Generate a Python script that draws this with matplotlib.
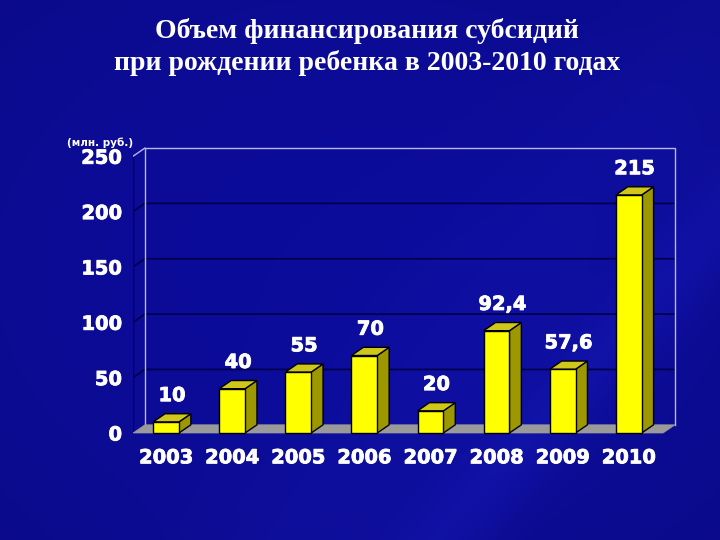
import numpy as np
import matplotlib
matplotlib.use("Agg")
import matplotlib.pyplot as plt
from matplotlib.patches import Polygon
import matplotlib.patheffects as pe

# ---- data ----
years = ["2003", "2004", "2005", "2006", "2007", "2008", "2009", "2010"]
values = [10, 40, 55, 70, 20, 92.4, 57.6, 215]
value_labels = ["10", "40", "55", "70", "20", "92,4", "57,6", "215"]
yticks = [0, 50, 100, 150, 200, 250]
title = "Объем финансирования субсидий\nпри рождении ребенка в 2003-2010 годах"
unit_label = "(млн. руб.)"

W_PX, H_PX = 720, 540
fig = plt.figure(figsize=(7.2, 5.4), dpi=100)

# ---- background ----
bg = fig.add_axes([0, 0, 1, 1])
yy, xx = np.mgrid[0:1:270j, 0:1:360j]
base = np.array([12, 12, 155]) / 255.0
streak = np.exp(-((xx * 0.9 + (1 - yy) * 0.6 - 1.15) ** 2) / 0.004) * 0.18
streak += np.exp(-((xx * 0.8 - yy * 0.5 - 0.35) ** 2) / 0.02) * 0.10
vign = 1 - 0.2 * ((xx - 0.5) ** 2 + (yy - 0.5) ** 2)
img = np.zeros(yy.shape + (3,))
for c in range(3):
    img[..., c] = base[c] * vign
img[..., 0] += streak * 0.10
img[..., 1] += streak * 0.12
img[..., 2] += streak * 0.30
img = np.clip(img, 0, 1)
bg.imshow(img, extent=[0, 1, 0, 1], aspect="auto", origin="lower")
bg.set_axis_off()

# ---- main axes ----
left_px, right_px, top_px, bot_px = 133, 680, 140, 440
ax = fig.add_axes([left_px / W_PX, 1 - bot_px / H_PX,
                   (right_px - left_px) / W_PX, (bot_px - top_px) / H_PX])
ax.patch.set_alpha(0)
pxx = 66.1
pxy = 1.107
x0 = -0.5
ax.set_xlim(x0, x0 + (right_px - left_px) / pxx)
ax.set_ylim((433 - bot_px) / pxy, (433 - top_px) / pxy)

DX, DY = 0.18, 7.4
XL, XR = -0.5, 7.52
YMAX = 250
BW = 0.39

bold = [pe.withStroke(linewidth=0.6, foreground="white")]

# back wall border
ax.plot([XL + DX, XL + DX, XR + DX, XR + DX],
        [DY, YMAX + DY, YMAX + DY, DY], color="#b8b8e8", lw=1.0, zorder=2)
ax.plot([XL, XL + DX], [YMAX, YMAX + DY], color="#b8b8e8", lw=1.0, zorder=2)
# front-left dark edge
ax.plot([XL, XL], [0, YMAX], color="#00004a", lw=1.0, zorder=1.5)
# gridlines
for t in yticks[1:-1]:
    ax.plot([XL, XL + DX, XR + DX], [t, t + DY, t + DY],
            color="#00004a", lw=1.2, zorder=1.5)

# floor
floor = Polygon([(XL, 0), (XR, 0), (XR + DX, DY), (XL + DX, DY)],
                closed=True, facecolor="#9a9a9a", edgecolor="#9a9a9a", lw=0.5, zorder=3)
ax.add_patch(floor)

# bars
for i, v in enumerate(values):
    xl, xr = i - BW / 2, i + BW / 2
    front = Polygon([(xl, 0), (xr, 0), (xr, v), (xl, v)], closed=True,
                    facecolor="#ffff00", edgecolor="black", lw=1.0, zorder=5)
    side = Polygon([(xr, 0), (xr + DX, DY), (xr + DX, v + DY), (xr, v)], closed=True,
                   facecolor="#9e9800", edgecolor="black", lw=1.0, zorder=4)
    top = Polygon([(xl, v), (xr, v), (xr + DX, v + DY), (xl + DX, v + DY)], closed=True,
                  facecolor="#cfc81a", edgecolor="black", lw=1.0, zorder=4)
    for p in (side, top, front):
        ax.add_patch(p)
    ax.annotate(value_labels[i], (i + DX / 2, v + DY), xytext=(0, 13),
                textcoords="offset points", ha="center", va="center",
                fontsize=14, fontweight="bold", color="white",
                family="DejaVu Sans", zorder=6, path_effects=bold)

# ticks
ax.set_xticks(range(len(years)))
ax.set_xticklabels(years)
ax.set_yticks(yticks)
ax.set_yticklabels([str(t) for t in yticks])
ax.tick_params(axis="both", length=0, colors="white")
ax.tick_params(axis="x", pad=6)
ax.tick_params(axis="y", pad=8)
for lab in ax.get_xticklabels() + ax.get_yticklabels():
    lab.set_fontsize(14)
    lab.set_fontweight("bold")
    lab.set_family("DejaVu Sans")
    lab.set_color("white")
    lab.set_path_effects(bold)
for s in ax.spines.values():
    s.set_visible(False)

fig.text(100 / W_PX, 1 - 143 / H_PX, unit_label, ha="center", va="center",
         fontsize=7.5, fontweight="bold", color="white", family="DejaVu Sans")

fig.text(367 / W_PX, 1 - 47 / H_PX, title, ha="center", va="center",
         fontsize=20, fontweight="bold", color="white", family="Liberation Serif",
         linespacing=1.35)

fig.savefig("out.png", dpi=100)
